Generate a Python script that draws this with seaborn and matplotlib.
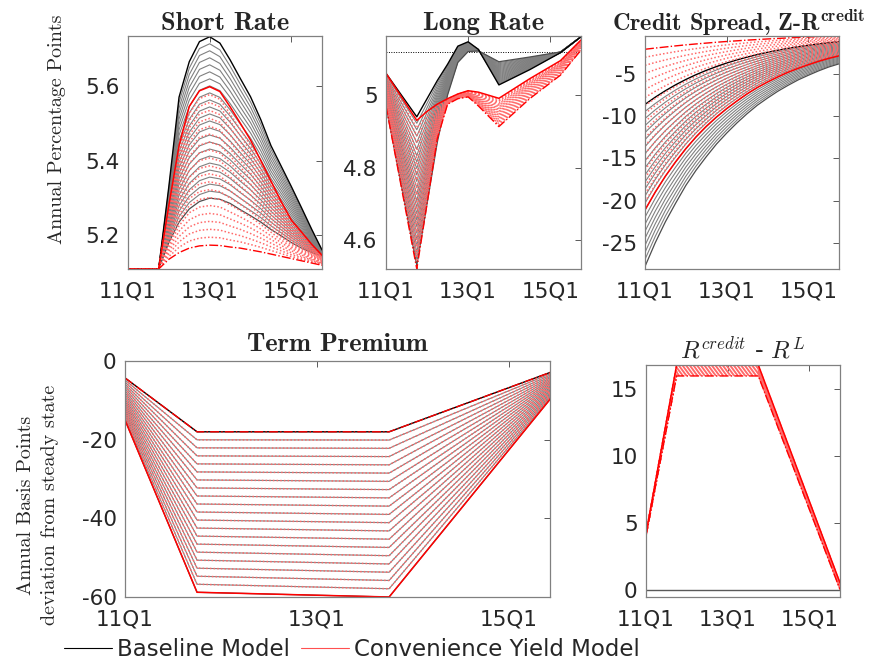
import numpy as np
import pandas as pd
import matplotlib
matplotlib.use('Agg')
import matplotlib.pyplot as plt
from matplotlib.lines import Line2D
from matplotlib.ticker import FormatStrFormatter
import seaborn as sns

# quarters since 11Q1
quarters = list(range(20))
tick_pos = [0, 8, 16]
tick_labels = ['11Q1', '13Q1', '15Q1']

n_base = 24   # baseline model runs
n_conv = 21   # convenience yield model runs

# Short rate (percent), outer runs of each fan
sr_base_first = [5.109, 5.109, 5.109, 5.109, 5.33, 5.57, 5.665, 5.719, 5.732, 5.715,
                 5.67, 5.62, 5.571, 5.51, 5.44, 5.385, 5.33, 5.273, 5.215, 5.16]
sr_base_last = [5.109, 5.109, 5.109, 5.109, 5.18, 5.235, 5.27, 5.29, 5.299, 5.296,
                5.285, 5.268, 5.252, 5.235, 5.215, 5.198, 5.18, 5.165, 5.153, 5.143]
sr_conv_first = [5.109, 5.109, 5.109, 5.109, 5.28, 5.44, 5.545, 5.587, 5.598, 5.585,
                 5.544, 5.50, 5.455, 5.40, 5.345, 5.29, 5.24, 5.208, 5.175, 5.146]
sr_conv_last = [5.109, 5.109, 5.109, 5.109, 5.135, 5.153, 5.165, 5.171, 5.173, 5.172,
                5.168, 5.165, 5.16, 5.155, 5.149, 5.143, 5.137, 5.131, 5.125, 5.119]

# Long rate (percent)
lr_x = [0, 3, 4, 5, 6, 7, 8, 9, 11, 14, 17, 19]
lr_base_first = [5.06, 4.94, 4.99, 5.04, 5.085, 5.135, 5.147, 5.126, 5.028, 5.07, 5.117, 5.161]
lr_base_last = [4.97, 4.53, 4.70, 4.87, 5.00, 5.09, 5.12, 5.122, 5.092, 5.105, 5.119, 5.161]
lr_conv_first = [5.06, 4.93, 4.955, 4.975, 4.99, 5.003, 5.012, 5.008, 4.991, 5.045, 5.095, 5.152]
lr_conv_last = [4.97, 4.52, 4.70, 4.88, 4.975, 4.99, 4.995, 4.97, 4.913, 4.99, 5.055, 5.124]
lr_steady = 5.119

# Credit spread (basis points)
cs_base_first = [-8.6, -7.75, -6.98, -6.28, -5.65, -5.08, -4.57, -4.12, -3.70, -3.33,
                 -3.0, -2.70, -2.43, -2.19, -1.97, -1.77, -1.60, -1.44, -1.29, -1.17]
cs_base_last = [-27.8, -25.0, -22.5, -20.3, -18.2, -16.4, -14.8, -13.3, -12.0, -10.8,
                -9.7, -8.7, -7.85, -7.05, -6.35, -5.7, -5.15, -4.63, -4.17, -3.8]
cs_conv_first = [-21.1, -19.0, -17.1, -15.4, -13.85, -12.45, -11.2, -10.1, -9.1, -8.2,
                 -7.35, -6.6, -5.95, -5.35, -4.8, -4.33, -3.9, -3.5, -3.15, -2.85]
cs_conv_last = [-2.07, -1.93, -1.8, -1.67, -1.55, -1.44, -1.34, -1.24, -1.15, -1.07,
                -0.99, -0.92, -0.85, -0.79, -0.73, -0.67, -0.62, -0.57, -0.53, -0.49]

# Term premium (basis points)
tp_x = [0, 3, 11, 19]
tp_deep = [-15.0, -58.8, -60.0, 0.0]
tp_shallow = [-4.3, -18.0, -18.0, 0.0]

# R^credit - R^L (basis points)
rl_x = [0, 3, 11, 19]
rl_base = [0.0, 0.0, 0.0, 0.0]
rl_conv_first = [4.2, 16.82, 16.82, 0.5]
rl_conv_last = [4.0, 16.0, 16.0, 0.0]


def fan(x, first, last, n):
    first = np.asarray(first, dtype=float)
    last = np.asarray(last, dtype=float)
    rows = []
    for m, w in enumerate(np.linspace(0, 1, n)):
        vals = first + w * (last - first)
        for q, v in zip(x, vals):
            rows.append((m, q, v))
    return pd.DataFrame(rows, columns=['member', 'q', 'value'])


def draw_family(ax, x, first, last, n, kind):
    df = fan(x, first, last, n)
    mid = df[(df.member > 0) & (df.member < n - 1)]
    top = df[df.member == 0]
    bot = df[df.member == n - 1]
    kw = dict(x='q', y='value', estimator=None, sort=False, ax=ax, legend=False)
    if kind == 'base':
        sns.lineplot(data=mid, units='member', color='0.5', lw=0.8, **kw)
        sns.lineplot(data=bot, color='0.3', lw=0.9, **kw)
        sns.lineplot(data=top, color='k', lw=1.0, **kw)
    else:
        sns.lineplot(data=mid, units='member', color='#ff6a6a', lw=1.1,
                     linestyle=(0, (1, 1.4)), **kw)
        sns.lineplot(data=bot, color='red', lw=1.0, linestyle='-.', **kw)
        sns.lineplot(data=top, color='red', lw=1.1, **kw)


sns.set_style('white')
plt.rcParams['font.family'] = ['DejaVu Sans']
plt.rcParams['mathtext.fontset'] = 'cm'

fig = plt.figure(figsize=(8.91, 6.68), dpi=100)
W, H = 891.0, 668.0


def make_axes(l, r, t, b):
    return fig.add_axes([l / W, 1 - b / H, (r - l) / W, (b - t) / H])


ax1 = make_axes(128, 322, 36, 269)
ax2 = make_axes(386, 581, 36, 269)
ax3 = make_axes(645, 839, 36, 269)
ax4 = make_axes(125, 550, 361, 597)
ax5 = make_axes(646, 840, 365, 597)

draw_family(ax1, quarters, sr_base_first, sr_base_last, n_base, 'base')
draw_family(ax1, quarters, sr_conv_first, sr_conv_last, n_conv, 'conv')

ax2.axhline(lr_steady, color='k', lw=0.7, linestyle=(0, (1, 1.5)))
draw_family(ax2, lr_x, lr_base_first, lr_base_last, n_base, 'base')
draw_family(ax2, lr_x, lr_conv_first, lr_conv_last, n_conv, 'conv')

draw_family(ax3, quarters, cs_base_first, cs_base_last, n_base, 'base')
draw_family(ax3, quarters, cs_conv_first, cs_conv_last, n_conv, 'conv')

draw_family(ax4, tp_x, tp_shallow, tp_deep, n_conv, 'base')
draw_family(ax4, tp_x, tp_deep, tp_shallow, n_conv, 'conv')

sns.lineplot(x=rl_x, y=rl_base, color='0.35', lw=1.0, ax=ax5)
draw_family(ax5, rl_x, rl_conv_first, rl_conv_last, n_conv, 'conv')

ax1.set_ylim(5.109, 5.734)
ax1.set_yticks([5.2, 5.4, 5.6])
ax2.set_ylim(4.52, 5.163)
ax2.set_yticks([4.6, 4.8, 5.0])
ax3.set_ylim(-28.1, -0.5)
ax3.set_yticks([-25, -20, -15, -10, -5])
ax4.set_ylim(-60, 0)
ax4.set_yticks([-60, -40, -20, 0])
ax5.set_ylim(-0.56, 16.82)
ax5.set_yticks([0, 5, 10, 15])

for ax in [ax1, ax2, ax3, ax5]:
    ax.set_xlim(0, 19)
ax4.set_xlim(0, 17.7)

for ax in [ax1, ax2, ax3, ax4, ax5]:
    ax.set_xticks(tick_pos)
    ax.set_xticklabels(tick_labels)
    ax.yaxis.set_major_formatter(FormatStrFormatter('%g'))
    ax.tick_params(direction='in', top=True, right=True, length=4, width=0.7,
                   color='0.35', labelsize=15.5, labelcolor='#262626')
    ax.tick_params(axis='x', pad=9)
    ax.tick_params(axis='y', pad=6)
    ax.set_xlabel('')
    ax.set_ylabel('')
    for s in ax.spines.values():
        s.set_color('0.5')
        s.set_linewidth(0.9)

title_kw = dict(fontfamily='cmb10', fontsize=19, pad=4)
ax1.set_title('Short Rate', **title_kw)
ax2.set_title('Long Rate', **title_kw)
ax3.set_title(r'Credit Spread, Z-R$^{\mathbf{credit}}$', fontfamily='cmb10',
              fontsize=17.5, pad=4, x=0.48)
ax4.set_title('Term Premium', fontfamily='cmb10', fontsize=19, pad=7)
ax5.set_title(r'$R^{credit}$ - $R^L$', fontsize=17.5, pad=5)

ax1.set_ylabel('Annual Percentage Points', fontfamily='cmr10', fontsize=14.5)
ax1.yaxis.set_label_coords(-0.32, 0.6)
ax4.set_ylabel('Annual Basis Points\ndeviation from steady state',
               fontfamily='cmr10', fontsize=14.5, linespacing=1.45)
ax4.yaxis.set_label_coords(-0.155, 0.39)

handles = [Line2D([], [], color='k', lw=0.8), Line2D([], [], color='#ff5050', lw=0.8)]
fig.legend(handles, ['Baseline Model', 'Convenience Yield Model'], loc='center',
           bbox_to_anchor=(0.395, 0.027), ncol=2, frameon=False, fontsize=16.5,
           handlelength=2.1, handletextpad=0.2, columnspacing=0.5)

fig.savefig('out.png', dpi=100)
